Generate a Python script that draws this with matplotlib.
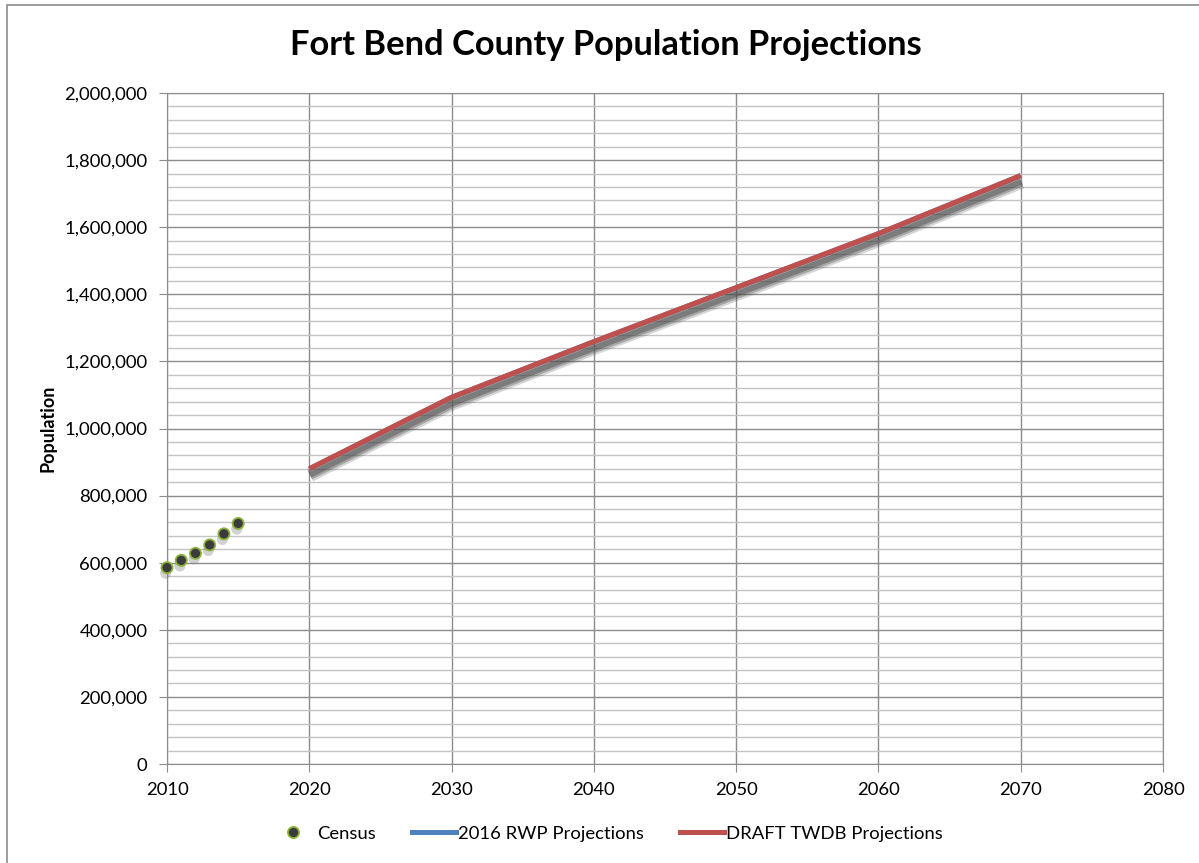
import matplotlib
matplotlib.use("Agg")
import matplotlib.pyplot as plt
import matplotlib.patheffects as pe
import matplotlib.patches as patches
from matplotlib.lines import Line2D
from matplotlib import ticker

plt.rcParams['font.family'] = ['Lato', 'DejaVu Sans']

census_years = [2010, 2011, 2012, 2013, 2014, 2015]
census_pop = [585375, 607000, 628000, 653000, 686000, 717000]

proj_years = [2020, 2030, 2040, 2050, 2060, 2070]
rwp_pop = [880000, 1093000, 1259000, 1420000, 1581000, 1754000]
twdb_pop = [880000, 1093000, 1259000, 1420000, 1581000, 1754000]

RED = '#c0504d'
BLUE = '#4f81bd'

fig = plt.figure(figsize=(11.99, 8.63), dpi=100)
ax = fig.add_axes([0.1393, 0.1147, 0.8307, 0.7775])

# outer chart border (left and top edges visible)
fig.patches.append(patches.Rectangle((0.0058, -0.01), 1.0, 1.0042, transform=fig.transFigure,
                                     fill=False, edgecolor='#8c8c8c', linewidth=1.2))

line_shadow = [pe.SimpleLineShadow(offset=(0.5, -4.5), shadow_color='#505050', alpha=0.12, linewidth=10),
               pe.SimpleLineShadow(offset=(0.5, -4.5), shadow_color='#505050', alpha=0.2, linewidth=7),
               pe.SimpleLineShadow(offset=(0.5, -4.5), shadow_color='#505050', alpha=0.28, linewidth=4),
               pe.Normal()]
marker_shadow = [pe.SimplePatchShadow(offset=(-1, -4), shadow_rgbFace='#808080', alpha=0.35),
                 pe.Normal()]

ax.plot(proj_years, rwp_pop, color=BLUE, linewidth=3.6, solid_capstyle='butt',
        zorder=3, path_effects=line_shadow)
ax.plot(proj_years, twdb_pop, color=RED, linewidth=3.6, solid_capstyle='butt',
        zorder=4, path_effects=line_shadow)
ax.plot(census_years, census_pop, linestyle='none', marker='o', markersize=8,
        markerfacecolor='#3b3b3b', markeredgecolor='#8ab23c', markeredgewidth=1.3,
        zorder=5, clip_on=False, path_effects=marker_shadow)

ax.set_xlim(2010, 2080)
ax.set_ylim(0, 2000000)
ax.set_xticks(range(2010, 2081, 10))
ax.set_yticks(range(0, 2000001, 200000))
ax.set_yticks(range(0, 2000001, 40000), minor=True)
ax.yaxis.set_major_formatter(ticker.FuncFormatter(lambda y, p: '{:,.0f}'.format(y)))

ax.grid(which='major', color='#8c8c8c', linewidth=1)
ax.grid(which='minor', axis='y', color='#c4c4c4', linewidth=1)
ax.set_axisbelow(True)
for s in ax.spines.values():
    s.set_color('#8c8c8c')
ax.tick_params(which='major', direction='out', length=6, color='#8c8c8c', labelsize=13.3)
ax.tick_params(axis='y', pad=8)
ax.tick_params(axis='x', pad=7)
ax.tick_params(which='minor', length=0)

ax.set_ylabel('Population', fontsize=13, fontweight='bold', labelpad=6)
fig.text(0.505, 0.948, 'Fort Bend County Population Projections', fontsize=24.8,
         fontweight='bold', ha='center', va='center')

handles = [Line2D([], [], linestyle='none', marker='o', markersize=8, markerfacecolor='#3b3b3b',
                  markeredgecolor='#8ab23c', markeredgewidth=1.3),
           Line2D([], [], color=BLUE, linewidth=3.6),
           Line2D([], [], color=RED, linewidth=3.6)]
labels = ['Census', '2016 RWP Projections', 'DRAFT TWDB Projections']
fig.legend(handles, labels, loc='center', bbox_to_anchor=(0.506, 0.034), ncol=3,
           frameon=False, fontsize=13.3, handlelength=2.4, columnspacing=1.95,
           handletextpad=0.1)

fig.savefig('out.png', dpi=100)
